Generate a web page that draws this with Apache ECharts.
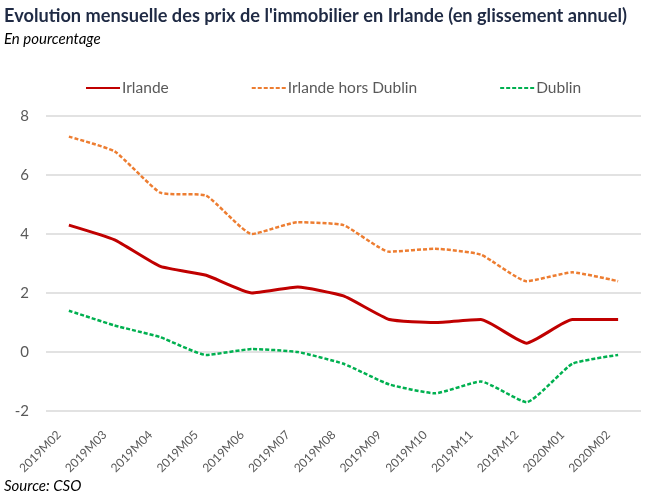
<!DOCTYPE html>
<html><head><meta charset="utf-8">
<script src="https://cdn.jsdelivr.net/npm/echarts@6/dist/echarts.min.js"></script>
<style>html,body{margin:0;padding:0;background:#fff}#c{width:649px;height:503px}</style>
</head><body><div id="c"></div>
<script>
const categories = ['2019M02','2019M03','2019M04','2019M05','2019M06','2019M07','2019M08','2019M09','2019M10','2019M11','2019M12','2020M01','2020M02'];
const irlande = [4.3, 3.8, 2.9, 2.6, 2.0, 2.2, 1.9, 1.1, 1.0, 1.1, 0.3, 1.1, 1.1];
const horsDublin = [7.3, 6.8, 5.4, 5.3, 4.0, 4.4, 4.3, 3.4, 3.5, 3.3, 2.4, 2.7, 2.4];
const dublin = [1.4, 0.9, 0.5, -0.1, 0.1, 0.0, -0.4, -1.1, -1.4, -1.0, -1.7, -0.4, -0.1];
const seriesNames = ['Irlande', 'Irlande hors Dublin', 'Dublin'];

const font = 'Lato, sans-serif';
const chart = echarts.init(document.getElementById('c'), null, {renderer: 'canvas'});
chart.setOption({
  animation: false,
  backgroundColor: '#fff',
  title: [
    {text: "Evolution mensuelle des prix de l'immobilier en Irlande (en glissement annuel)", left: 4, top: 7, padding: 0,
     textStyle: {fontFamily: font, fontSize: 18.2, fontWeight: 'bold', color: '#1F2A44'}},
    {text: 'En pourcentage', left: 4, top: 32, padding: 0,
     textStyle: {fontFamily: font, fontSize: 15, fontWeight: 'normal', fontStyle: 'italic', color: '#000'}},
    {text: 'Source: CSO', left: 4, top: 479, padding: 0,
     textStyle: {fontFamily: font, fontSize: 15, fontWeight: 'normal', fontStyle: 'italic', color: '#000'}}
  ],
  legend: {
    top: 80, left: 85, itemGap: 82, itemWidth: 34, itemHeight: 14, padding: 0,
    itemStyle: {opacity: 0},
    textStyle: {fontFamily: font, fontSize: 15.5, color: '#595959', padding: [0,0,0,-3]},
    data: seriesNames
  },
  grid: {left: 46, right: 8, top: 116, bottom: 92},
  xAxis: {
    type: 'category', data: categories, boundaryGap: true,
    axisLine: {show: false}, axisTick: {show: false},
    axisLabel: {rotate: 45, fontFamily: font, fontSize: 12, color: '#595959', margin: 12, padding: [0, 14, 0, 0]}
  },
  yAxis: {
    type: 'value', min: -2, max: 8, interval: 2,
    axisLine: {show: false}, axisTick: {show: false},
    splitLine: {lineStyle: {color: '#D9D9D9', width: 1.5}},
    axisLabel: {fontFamily: font, fontSize: 15, color: '#595959', margin: 17}
  },
  series: [
    {name: seriesNames[0], type: 'line', data: irlande, showSymbol: false, symbol: 'none', smooth: 0.15,
     lineStyle: {color: '#C00000', width: 3}, itemStyle: {color: '#C00000'}},
    {name: seriesNames[1], type: 'line', data: horsDublin, showSymbol: false, symbol: 'none', smooth: 0.15,
     lineStyle: {color: '#ED7D31', width: 2.5, type: [4, 2]}, itemStyle: {color: '#ED7D31'}},
    {name: seriesNames[2], type: 'line', data: dublin, showSymbol: false, symbol: 'none', smooth: 0.15,
     lineStyle: {color: '#00B050', width: 2.5, type: [4, 2]}, itemStyle: {color: '#00B050'}}
  ]
});
</script></body></html>
